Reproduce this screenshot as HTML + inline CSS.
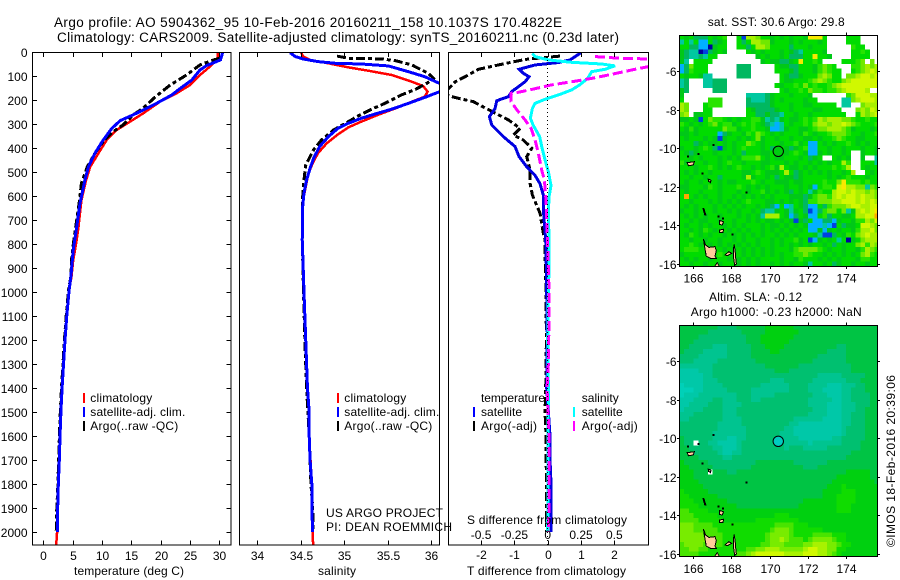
<!DOCTYPE html>
<html>
<head>
<meta charset="utf-8">
<title>Argo profile</title>
<style>
html,body{margin:0;padding:0;background:#fff;}
svg{display:block;}
text{font-family:"Liberation Sans",sans-serif;font-size:12px;fill:#000;}
.t{font-size:13.5px;}
</style>
</head>
<body>
<svg id="chart" width="900" height="580" viewBox="0 0 900 580" xmlns="http://www.w3.org/2000/svg">
<defs>
<clipPath id="c1"><rect x="32.5" y="52" width="198.5" height="493"/></clipPath>
<clipPath id="c2"><rect x="239.5" y="52" width="200" height="493"/></clipPath>
<clipPath id="c3"><rect x="448.5" y="52" width="200" height="493"/></clipPath>
<clipPath id="m1"><rect x="679.3" y="35" width="198" height="231"/></clipPath>
<clipPath id="m2"><rect x="679.3" y="325" width="198" height="231"/></clipPath>
</defs>
<g id="maps"></g>
<g id="profiles"></g>
<g id="axes"></g>
<text class="t" x="54" y="27" textLength="508" lengthAdjust="spacing">Argo profile: AO 5904362_95 10-Feb-2016 20160211_158 10.1037S 170.4822E</text>
<text class="t" x="57" y="42" textLength="562" lengthAdjust="spacing">Climatology: CARS2009. Satellite-adjusted climatology: synTS_20160211.nc (0.23d later)</text>
<text x="74" y="575" textLength="110" lengthAdjust="spacing">temperature (deg C)</text>
<text x="318" y="575" textLength="38" lengthAdjust="spacing">salinity</text>
<text x="467" y="575" textLength="159" lengthAdjust="spacing">T difference from climatology</text>
<text x="467" y="524" textLength="160" lengthAdjust="spacing">S difference from climatology</text>
<text x="90.3" y="402" textLength="62" lengthAdjust="spacing">climatology</text>
<text x="90.3" y="416" textLength="95" lengthAdjust="spacing">satellite-adj. clim.</text>
<text x="90.3" y="430" textLength="88" lengthAdjust="spacing">Argo(..raw -QC)</text>
<text x="344.3" y="402" textLength="62" lengthAdjust="spacing">climatology</text>
<text x="344.3" y="416" textLength="95" lengthAdjust="spacing">satellite-adj. clim.</text>
<text x="344.3" y="430" textLength="88" lengthAdjust="spacing">Argo(..raw -QC)</text>
<text x="326" y="517" textLength="117" lengthAdjust="spacing">US ARGO PROJECT</text>
<text x="326" y="531" textLength="126" lengthAdjust="spacing">PI: DEAN ROEMMICH</text>
<text x="481" y="402" textLength="64" lengthAdjust="spacing">temperature</text>
<text x="481" y="416" textLength="41" lengthAdjust="spacing">satellite</text>
<text x="481" y="430" textLength="56" lengthAdjust="spacing">Argo(-adj)</text>
<text x="581.7" y="402" textLength="37" lengthAdjust="spacing">salinity</text>
<text x="581.7" y="416" textLength="41" lengthAdjust="spacing">satellite</text>
<text x="581.7" y="430" textLength="56" lengthAdjust="spacing">Argo(-adj)</text>
<text x="707.7" y="26" textLength="137" lengthAdjust="spacing">sat. SST: 30.6 Argo: 29.8</text>
<text x="709" y="301" textLength="93" lengthAdjust="spacing">Altim. SLA: -0.12</text>
<text x="690.7" y="316" textLength="171" lengthAdjust="spacing">Argo h1000: -0.23 h2000: NaN</text>
<text transform="translate(895,547) rotate(-90)" x="0" y="0" textLength="172" lengthAdjust="spacing">©IMOS 18-Feb-2016 20:39:06</text>
</svg>
<script>
// ---- profile data (depth in m) ----
const climTempDepth=[0,26,61,96,138,172,207,256,290,325,367,422,478,533,617,728,797,867,936,992,1100,1200,1300,1400,1500,1600,1700,1800,1900,2000,2054];
const climTemp=[29.7,29.7,28.4,26.7,25.0,22.7,19.9,17.0,14.8,12.5,10.8,9.4,8.0,7.3,6.5,6.0,5.6,5.1,4.8,4.4,4.0,3.7,3.45,3.2,3.0,2.85,2.72,2.55,2.45,2.35,2.2];
const satTempDepth=[0,33,57,75,117,147,179,214,242,262,286,318,367,422,478,533,631,728,825,936,992,1100,1200,1300,1400,1500,1600,1700,1800,1900,2000];
const satTemp=[30.6,30.2,27.8,26.7,25.3,23.6,21.9,19.3,17,15.3,13.1,11.7,10.2,8.8,7.7,7.1,6.25,5.7,5.1,4.7,4.4,4.0,3.7,3.45,3.2,3.0,2.85,2.73,2.56,2.45,2.39];
const argoTempDepth=[26,33,54,96,138,189,235,262,304,332,374,422,478,547,631,700,783,867,936,992,1100,1200,1300,1400,1500,1600,1700,1800,1900,2000];
const argoTemp=[30.1,29,26.7,24.4,21.6,19,17,15.3,13.6,11.9,10.2,8.8,7.5,6.5,6.1,5.7,5.2,4.8,4.7,4.3,3.9,3.6,3.35,3.1,2.9,2.75,2.6,2.5,2.3,2.2];

const climSalDepth=[3,19,33,47,64,78,96,124,142,165,186,207,235,262,290,314,346,381,422,464,506,561,617,672,783,1000,1200,1400,1500,1600,1700,1800,1900,2000,2054];
const climSal=[34.51,34.53,34.61,34.82,35.05,35.28,35.55,35.78,35.91,35.96,35.93,35.78,35.59,35.39,35.20,35.05,34.92,34.80,34.70,34.64,34.59,34.56,34.53,34.525,34.52,34.54,34.56,34.58,34.6,34.6,34.615,34.63,34.635,34.64,34.645];
const satSalDepth=[3,19,29,40,47,50,58,82,103,128,147,168,189,214,238,258,276,297,318,353,394,443,485,533,589,644,783,1000,1200,1400,1500,1600,1700,1800,1900,2000];
const satSal=[34.38,34.44,34.53,34.70,34.90,35.20,35.51,35.74,35.93,36.08,36.3,36.08,35.93,35.74,35.55,35.36,35.20,35.05,34.93,34.82,34.72,34.65,34.61,34.57,34.54,34.525,34.52,34.54,34.56,34.58,34.6,34.6,34.61,34.63,34.63,34.64];
const argoSalDepth=[17,26,29,36,54,89,110,131,156,179,214,238,267,290,325,367,408,471,533,603,783,1000,1200,1400,1500,1600,1700,1800,1900,2000];
const argoSal=[34.92,35.05,35.43,35.59,35.78,35.97,36.03,35.95,35.82,35.66,35.47,35.32,35.16,35.05,34.88,34.74,34.65,34.56,34.54,34.525,34.52,34.535,34.55,34.57,34.585,34.6,34.61,34.62,34.64,34.645];

const satDiffTDepth=[3,33,44,54,72,89,103,124,165,186,203,235,269,304,353,394,436,478,514,549,597,658,714,783,900,1000,1100,1200,1300,1400,1500,1600,1700,1800,1900,2000];
const satDiffT=[1.0,.67,.32,-.38,-.86,-.73,-.56,-.68,-1.08,-1.18,-1.53,-1.58,-1.75,-1.68,-1.33,-.98,-.86,-.63,-.38,-.23,-.13,-.13,-.10,-.06,-.04,-.03,-.02,-.01,-.02,-.03,.02,.07,.07,.1,.1,.1];
const argoDiffTDepth=[17,31,54,72,103,124,151,170,183,193,207,233,283,318,346,367,401,436,492,547,596,672,756,783,850,1000,1200,1400,1500,1600,1800,1900,2000];
const argoDiffT=[.37,-.68,-1.48,-2.08,-2.48,-2.78,-2.96,-3.1,-2.96,-2.68,-2.23,-1.88,-1.18,-.83,-1.03,-.73,-.48,-.63,-.53,-.53,-.46,-.23,-.13,-.08,-.08,-.05,-.04,-.06,-.08,-.05,-.04,-.04,-.03];
const satDiffSDepth=[6,19,33,43,50,58,72,82,110,137,158,179,197,214,235,276,304,353,394,450,499,556,603,672,783,900,1000,1200,1400,2000];
const satDiffS=[-.115,-.095,.005,.18,.405,.505,.43,.33,.30,.24,.18,.08,-.02,-.095,-.115,-.13,-.11,-.06,-.045,-.02,.005,.025,.01,.005,.01,.01,.005,0,.005,0];
const argoDiffSDepth=[19,26,29,44,61,75,93,110,124,137,156,169,172,207,242,283,318,367,422,492,533,617,686,783,900,1000,1100,1300,1400,1600,1900,2000];
const argoDiffS=[.355,.54,.755,.98,.755,.63,.48,.33,.18,.03,-.12,-.23,-.275,-.275,-.23,-.17,-.125,-.095,-.07,-.045,-.025,-.0125,-.0075,-.0025,.005,.01,.01,.005,-.005,.01,.01,.005];

// ---- tick labels ----
const depthTicks=[0,100,200,300,400,500,600,700,800,900,1000,1100,1200,1300,1400,1500,1600,1700,1800,1900,2000];
const tempTicks=[0,5,10,15,20,25,30];
const salTicks=[34,34.5,35,35.5,36];
const diffTTicks=[-2,-1,0,1,2];
const diffSTicks=[-0.5,-0.25,0,0.25,0.5];
const lonTicks=[166,168,170,172,174];
const latTicks=[-6,-8,-10,-12,-14,-16];

// ---- map data: one letter per 0.25 degree cell, '.' = no data ----
const sstRows=[
"gfgeeegfgh..gbjjiggfgfgfggflllg....ggg....",
"dgdgccgefg..gegjjiifgggfgfgggfg....ggg....",
"ggeeccafgg..ggegjjiggggegggfggg.....hgg...",
"feddabefgf....gfgfgggfgfedggggf.....gghg..",
"feddedgg........fgfggfgeeegglggf....gggg..",
"fd.gggg..........fgffeefglgghg....ggghi.i.",
"ceiggg......eee.....gffeegggfhihg...hhijij",
"cehggg......eee.....gggfegggfhihgg..ghijkj",
"gfggfdd.....eee......gfeefgggijigg.iijkkjk",
"de...ddeee...........gffggghijihggijkkkkkk",
"de...ddeee..........gfgghgighgghijkkkkkkkk",
"fe.....eee...........gfgghgihhghhijkkkkj..",
"f.............ddddefgggfgggf.......hikkkjj",
"g.....hhh.....edddefgfggggfgg.....ddijkkkj",
"ji...ghhh.....eeeeefgggfggffggggg.dd..ijjj",
"ji...gg.......gfeeeefggfggggffgggg...ijikj",
"ij.ffgg.......ggeefeedggfggfggggggg..gjijk",
"ffgfbgihhgfgfgghhfdedfgffghghjijjjiihgghgg",
"hgfgfghighhfghghgfedcdgfgghgijjijjkjihgggh",
"gfhfgggggihhfgghggfccdfggffghiijjjihfgggfg",
"ffgfggggcefggfhgihgfgfgggfhgfgghiiihggfggh",
"gfgggfgfbfggfgfgifggfggfggffgfgghihggffggg",
"gggefgffgfgfggihgfgggfgghfgccgfgfgghgfgfgg",
"fggfghgebfgfghgggfgefgfefghccggfggfgggfggf",
"gfefgggfgggfgegggffgggfghgfccfgfggfg..fggf",
"ggfgfgggfgfgfhhhigfgffgggfgefg..gfgf..f..d",
"hfgggfggfghggfgggffgggfgfggfgfgfggjh..gggd",
"gggfgghgfgfghggfgfghfjgffgfgfggghghj..gfgg",
"gfgfggfggggggffghgfffgjgefgfgfgfggfgj..gfg",
"ggfggfggeggggfjfggfgegffefgggggfgfghgggfgg",
"gfggfgggfgffggghgfggfffgffgggghggilhhhghgg",
"ffgggfhgfggghgfgfgfgggfggfgfcghhgkljjiidih",
"gfggfgggfgggfgfgghfgfgfegfgdfhggjkkjkjjiji",
"gmgfgfggfggfgfgfgfgfgggfffefhiihjkjkkjkjji",
"ggfgggfgfgfgfghgggffgfgfgfehhiiijjkkkjkjkj",
"gfgfgggfgfgfgfggfgfecgcdgfeccgehiiijkkjjkk",
"fggfgggfggfgfggfgeddfgfdfgebcehiigidfjkjkl",
"gfgfgfggfgggfgfgfdjjjgfcegfccgheggffgjjkkm",
"ggfgffggfggfggfgfgffgfgfbfegcceecfggfhhjik",
"gfggfgfggfgfgfgggfgffgfgfgfcccdcbgeffgkkji",
"ggfgfhgfggfgfgfggfgfgfgfgfgccfcfgfggfhjjki",
"gfhgfgfggfgfgfgfgfggfgfgfgggfdbbegfhgijkjj",
"ggfggfggfggfgfggfggfgfgghfgbcfgfgdgafgijjj",
"gghgfgfgfgfgfgfgfggfgfgfgfgfggfgegfggijhji",
"ghhhggfggfgfgfgfgfgfgggfhiiiihgfggfggfhjih",
"fgggggfghggfgfgfgfgfgfgghhihggfgfgfgfgijhg",
"gfgfggfgggfgfgfgfggggfggfhgggfgfgfgggfhhgg",
"ggfggfggfgggfgfgfggfgfgfggfdggfgefggfggfgg"];
const slaRows=[
"eeeeeeeeddddeeeeeeffffffeeeeeeeeeeeeeeeeeeee",
"eeeeeedddddddeeeeefffffffeeeeeeeeeeeeeeeeeee",
"eeeeddddddddddeeefffffffeeeeeeeeeeeeeeeeeeee",
"eeedddddddddddeeeffffffeeeeeeeeeeeeeeeeeeeee",
"eedddddcccdddddeeeffffeeeeeeeeeeeddeeeeeeeee",
"eddddcccccdddddeeeeffeeeeeeeeeeddddeeeeeeeee",
"ddddccccccdddddeeeeeeeeeeeeeeddddddeeeeeeeee",
"dddcccccddddddddeeeeeeeeeeeedddddddeeeeeeeee",
"cccccccdddddddddddeeeeeeedddddddddddeeeeeeee",
"bbbbcccdddddddddddddeeedddddddddddddeeeeeeee",
"bbbbbccddddddddddddddddddddddcccccdddddeeeee",
"bbbbbcccdddddddddddcccddddddcccccccdddeeeeee",
"abbbbccccddddddddccccccddddccccbbbcccddeeeee",
"aaabbcccccdddddccccccccddddcccbbbbccdddeeeee",
"abbbccccccccdddcccccddddddddcccbbbccddddeeee",
"bbbccccddcccdddccddddddddddcccccbbccddddeeee",
"bbccccdddccccddddddddddddddccccbbbcccdddeeee",
"bccccddddcccddddddddddddddddcccbbbcccddeeeee",
"cccddddddcccdddddddddddddddccccbbbccdddeeeee",
"ccdddddddccccdddddddddddccccccbbbbccdddeeeee",
"ddddddddcccccddddddddddccbbbbbbbbbccdddeeeee",
"ddddddddccccccddddddddccbbbbbbbbbbcddddeeeee",
"dddddddcccccccdddddddcccbbbbbbbbbbcddddeeeee",
"eddddddcccbbccdddddddccccbbbbbbbccdddddeeeee",
"edd.ddccbbbbcdddddddddcccccbccccccddddeeeeee",
"eedddddccbbbcdddddddddcdddcccccdddddddeeeeee",
"eeedddddcbbccdddddddddddddddddddddddeeeeeeee",
"eeeedddddccddddddddddddddddddddddddeeeeeeeee",
"feeeeeddddddddddeeeeeeeedddddddeeeeeeeeeeeee",
"ffeeeeeddddddddeeeeeeeeeeedddeeeeeeeeeeeeeee",
"fffeee.eeeddeeeeeeeeeeeeeeeeeeeeeeefffffeeee",
"fffeeeeeeeeeeeeeeeeeeeeeeeeeeeeeefffffffeeee",
"ffffeeeeeeeeeeeeeeeeeeeeeeeeeeeefffffffffeee",
"fffffeeeeeeeeeeeeeeeeeeeeeeeeeefffgfffffffee",
"gfffffeeeeeeeeeeeeeeeeeeeeeeeeffffgggffffffe",
"ggffffffeeeeeeeeeeeeeeeeeeeeeefffggggfffffff",
"gggfffffffeeeeeeeeeeeeeeeefffffffggggfffffff",
"ggggffffffffeeeeeeeeeeeeeffffffffgggffffffee",
"hhggggfffffffffffffffffffffffffffgggffffffff",
"hhhgggggffffffffffffgggffffffffffffffffffffe",
"hhhhgggggfffffffgggggggggfffffffffffffffffff",
"iiihhhhggggggggggggghhhhgggfffffffffffffffff",
"iiihhhhhggggggggggghiiihggggggffffffffffffff",
"iiiiihhhhggggggggghiiiihgggghhhhgggfffffffff",
"iiiiiihhhggggggggghiijihhhghiiiihggfffffffff",
"hiiiihhhhgggggggghhiiihhhhiijjjiihggffffffff",
"hhiihhgggggggghhiijjjiiiiijkkjjiiggfffffffff",
"hhhhgggggggghhijkkkkkkjjjjkkkjjihgffffffffff"];
const sstColors={a:'#0000a0',b:'#0040e0',c:'#00b0ff',d:'#00c8a0',e:'#00b860',f:'#00c818',g:'#00dc00',h:'#28e400',i:'#70e800',j:'#a8f000',k:'#d0f800',l:'#f8e800',m:'#ffa800','.':'#ffffff'};
const slaColors={a:'#00d0b8',b:'#00c8a8',c:'#00c490',d:'#00c070',e:'#00c444',f:'#00d010',g:'#10dc00',h:'#48e400',i:'#78ec00',j:'#a8f200',k:'#d0f800','.':'#ffffff'};

// ---- coastline outlines (lon, lat) ----
const islandLons=[
[166.53,166.65,166.82,167.14,167.21,167.14,167.21,166.91,166.68,166.61],
[167.17,167.26,167.38,167.1],
[167.66,167.87,168.01,167.79],
[168.14,168.19,168.22,168.26,168.17,168.12,168.10],
[167.38,167.59,167.52,167.38],
[167.38,167.59,167.56,167.38],
[165.68,166.05,166,165.74],
[166.78,166.93,166.9,166.8],
[166.51,166.56,166.66,166.6]];
const islandLats=[
[-14.70,-15.02,-15.14,-15.10,-15.31,-15.59,-15.71,-15.71,-15.59,-15.19],
[-16.05,-15.93,-16.17,-16.17],
[-15.53,-15.36,-15.45,-15.57],
[-14.98,-15.27,-15.62,-16,-16.07,-15.71,-15.36],
[-13.75,-13.81,-13.98,-13.95],
[-14.24,-14.2,-14.36,-14.36],
[-10.75,-10.70,-10.87,-10.91],
[-11.6,-11.66,-11.78,-11.72],
[-13.12,-13.14,-13.46,-13.46]];
const isletLons=[167.05,166.26,165.72,166.47,168.8,167.31,168.05,167.55];
const isletLats=[-9.83,-10.3,-10.44,-11.30,-12.3,-13.55,-14.46,-13.65];
const argoPositionLon=170.46;
const argoPositionLat=-10.16;

// ---- scales ----
function tempX(v){return 43.3+v*5.867;}
function salX(v){return 257+(v-34)*87;}
function diffTX(v){return 547.7+v*33.3;}
function diffSX(v){return 547.7+v*133.2;}
function depthY(d){return 52+d*0.24;}
function lonX(v){return 693.3+(v-166)*19.05;}
function latY(v,top){return top+36+(-6-v)*19.3;}

const NS='http://www.w3.org/2000/svg';
function mk(tag,parent,attrs){
  const el=document.createElementNS(NS,tag);
  for(const k in attrs){el.setAttribute(k,attrs[k]);}
  parent.appendChild(el);
  return el;
}
const maps=document.getElementById('maps');
const profiles=document.getElementById('profiles');
const axes=document.getElementById('axes');

function drawMap(rows,colors,top,clip,name){
  const g=mk('g',maps,{'clip-path':'url(#'+clip+')','shape-rendering':'crispEdges'});
  
  
  rows.forEach(function(row,j){
    for(let i=0;i<row.length;i++){
      const lon=165.27+i*0.25;
      const lat=-4.13-j*0.25;
      const cell=mk('rect',g,{x:lonX(lon),y:latY(lat,top),width:5.2,height:5.3,fill:colors[row[i]]});
      
      
    }
  });
  islandLons.forEach(function(lons,k){
    const pts=lons.map(function(v,n){return lonX(v)+','+latY(islandLats[k][n],top);}).join(' ');
    const land=mk('polygon',g,{points:pts,fill:'#ffcc99',stroke:'#000','stroke-width':1});
    
    
  });
  isletLons.forEach(function(v,k){
    const islet=mk('rect',g,{x:lonX(v)-1,y:latY(isletLats[k],top)-1,width:2,height:2,fill:'#000'});
    
    
  });
}
drawMap(sstRows,sstColors,35,'m1','sst-map');
drawMap(slaRows,slaColors,325,'m2','sla-map');

const sstMarker=mk('circle',maps,{cx:lonX(argoPositionLon),cy:latY(argoPositionLat,35),r:5.2,fill:'#00cc10',stroke:'#000','stroke-width':1});


const slaMarker=mk('circle',maps,{cx:lonX(argoPositionLon),cy:latY(argoPositionLat,325),r:5.2,fill:'#00ccc0',stroke:'#000','stroke-width':1});



function series(xs,ds,xf,clip,color,width,dash,name){
  const pts=xs.map(function(v,i){return xf(v)+','+depthY(ds[i]);}).join(' ');
  const attrs={points:pts,fill:'none',stroke:color,'stroke-width':width,'clip-path':'url(#'+clip+')','shape-rendering':'crispEdges'};
  if(dash){attrs['stroke-dasharray']=dash;}
  const el=mk('polyline',profiles,attrs);
  
  
}
series(climTemp,climTempDepth,tempX,'c1','#ff0000',2.5,null,'temperature-climatology-line');
series(argoTemp,argoTempDepth,tempX,'c1','#000000',3,'9 3 4 3','temperature-argo-line');
series(satTemp,satTempDepth,tempX,'c1','#0000ff',3,null,'temperature-satellite-line');
series(climSal,climSalDepth,salX,'c2','#ff0000',2.5,null,'salinity-climatology-line');
series(argoSal,argoSalDepth,salX,'c2','#000000',3,'9 3 4 3','salinity-argo-line');
series(satSal,satSalDepth,salX,'c2','#0000ff',3,null,'salinity-satellite-line');
series(argoDiffT,argoDiffTDepth,diffTX,'c3','#000000',3,'9 3 4 3','t-diff-argo-line');
series(satDiffT,satDiffTDepth,diffTX,'c3','#0000e0',3,null,'t-diff-satellite-line');
series(satDiffS,satDiffSDepth,diffSX,'c3','#00ffff',3,null,'s-diff-satellite-line');
series(argoDiffS,argoDiffSDepth,diffSX,'c3','#ff00ff',3,'10 4','s-diff-argo-line');

const zeroLine=mk('line',profiles,{x1:diffTX(0),x2:diffTX(0),y1:52,y2:545,stroke:'#000','stroke-width':1,'stroke-dasharray':'1 3','shape-rendering':'crispEdges'});



function frame(x,y,w,h,name){
  const el=mk('rect',axes,{x:x,y:y,width:w,height:h,fill:'none',stroke:'#000','stroke-width':1,'shape-rendering':'crispEdges'});
  
  
}
frame(32.5,52.5,198.5,492.5,'temperature-axes-box');
frame(239.5,52.5,200,492.5,'salinity-axes-box');
frame(448.5,52.5,200,492.5,'difference-axes-box');
frame(679.5,35.5,198,231,'sst-map-box');
frame(679.5,325.5,198,231,'sla-map-box');

function tick(x1,y1,x2,y2,name){
  const el=mk('line',axes,{x1:x1,y1:y1,x2:x2,y2:y2,stroke:'#000','stroke-width':1,'shape-rendering':'crispEdges'});
  
  
}
function label(x,y,str,anchor,name){
  const el=mk('text',axes,{x:x,y:y,'text-anchor':anchor});
  el.textContent=str;
  
  
}
depthTicks.forEach(function(d){
  const y=Math.round(depthY(d))+0.5;
  tick(32.5,y,37,y,'depth-tick');
  tick(226.5,y,231,y,'depth-tick');
  label(27.5,y+4.5,String(d),'end','depth-tick-label');
});
tempTicks.forEach(function(v){
  const x=Math.round(tempX(v))+0.5;
  tick(x,52.5,x,57,'temperature-tick');
  tick(x,540.5,x,545,'temperature-tick');
  label(x,560,String(v),'middle','temperature-tick-label');
});
salTicks.forEach(function(v){
  const x=Math.round(salX(v))+0.5;
  tick(x,52.5,x,57,'salinity-tick');
  tick(x,540.5,x,545,'salinity-tick');
  label(x,560,String(v),'middle','salinity-tick-label');
});
diffTTicks.forEach(function(v){
  const x=Math.round(diffTX(v))+0.5;
  tick(x,52.5,x,57,'t-diff-tick');
  tick(x,540.5,x,545,'t-diff-tick');
  label(x,559,String(v),'middle','t-diff-tick-label');
});
diffSTicks.forEach(function(v){
  label(diffSX(v),539,String(v),'middle','s-diff-tick-label');
});
[35,325].forEach(function(top){
  const bottom=top+231;
  lonTicks.forEach(function(v){
    const x=Math.round(lonX(v))+0.5;
    tick(x,top-2.5,x,top+0.5,'map-longitude-tick');
    tick(x,bottom+0.5,x,bottom+3,'map-longitude-tick');
    label(x,bottom+(top===35?16.5:17),String(v),'middle','map-longitude-label');
  });
  latTicks.forEach(function(v){
    const y=Math.round(latY(v,top))+0.5;
    tick(677,y,679.5,y,'map-latitude-tick');
    tick(877.5,y,880,y,'map-latitude-tick');
    label(676.5,y+4.5,String(v),'end','map-latitude-label');
  });
});

function legendMark(x,y,color,name){
  const el=mk('line',axes,{x1:x,x2:x,y1:y,y2:y+10,stroke:color,'stroke-width':2,'shape-rendering':'crispEdges'});
  
  
}
legendMark(84,393,'#ff0000','temp-legend-climatology-mark');
legendMark(84,407,'#0000ff','temp-legend-satellite-mark');
legendMark(84,421,'#000000','temp-legend-argo-mark');
legendMark(338,393,'#ff0000','sal-legend-climatology-mark');
legendMark(338,407,'#0000ff','sal-legend-satellite-mark');
legendMark(338,421,'#000000','sal-legend-argo-mark');
legendMark(474,407,'#0000ff','diff-legend-t-satellite-mark');
legendMark(474,421,'#000000','diff-legend-t-argo-mark');
legendMark(574,407,'#00ffff','diff-legend-s-satellite-mark');
legendMark(574,421,'#ff00ff','diff-legend-s-argo-mark');
</script>
</body>
</html>
